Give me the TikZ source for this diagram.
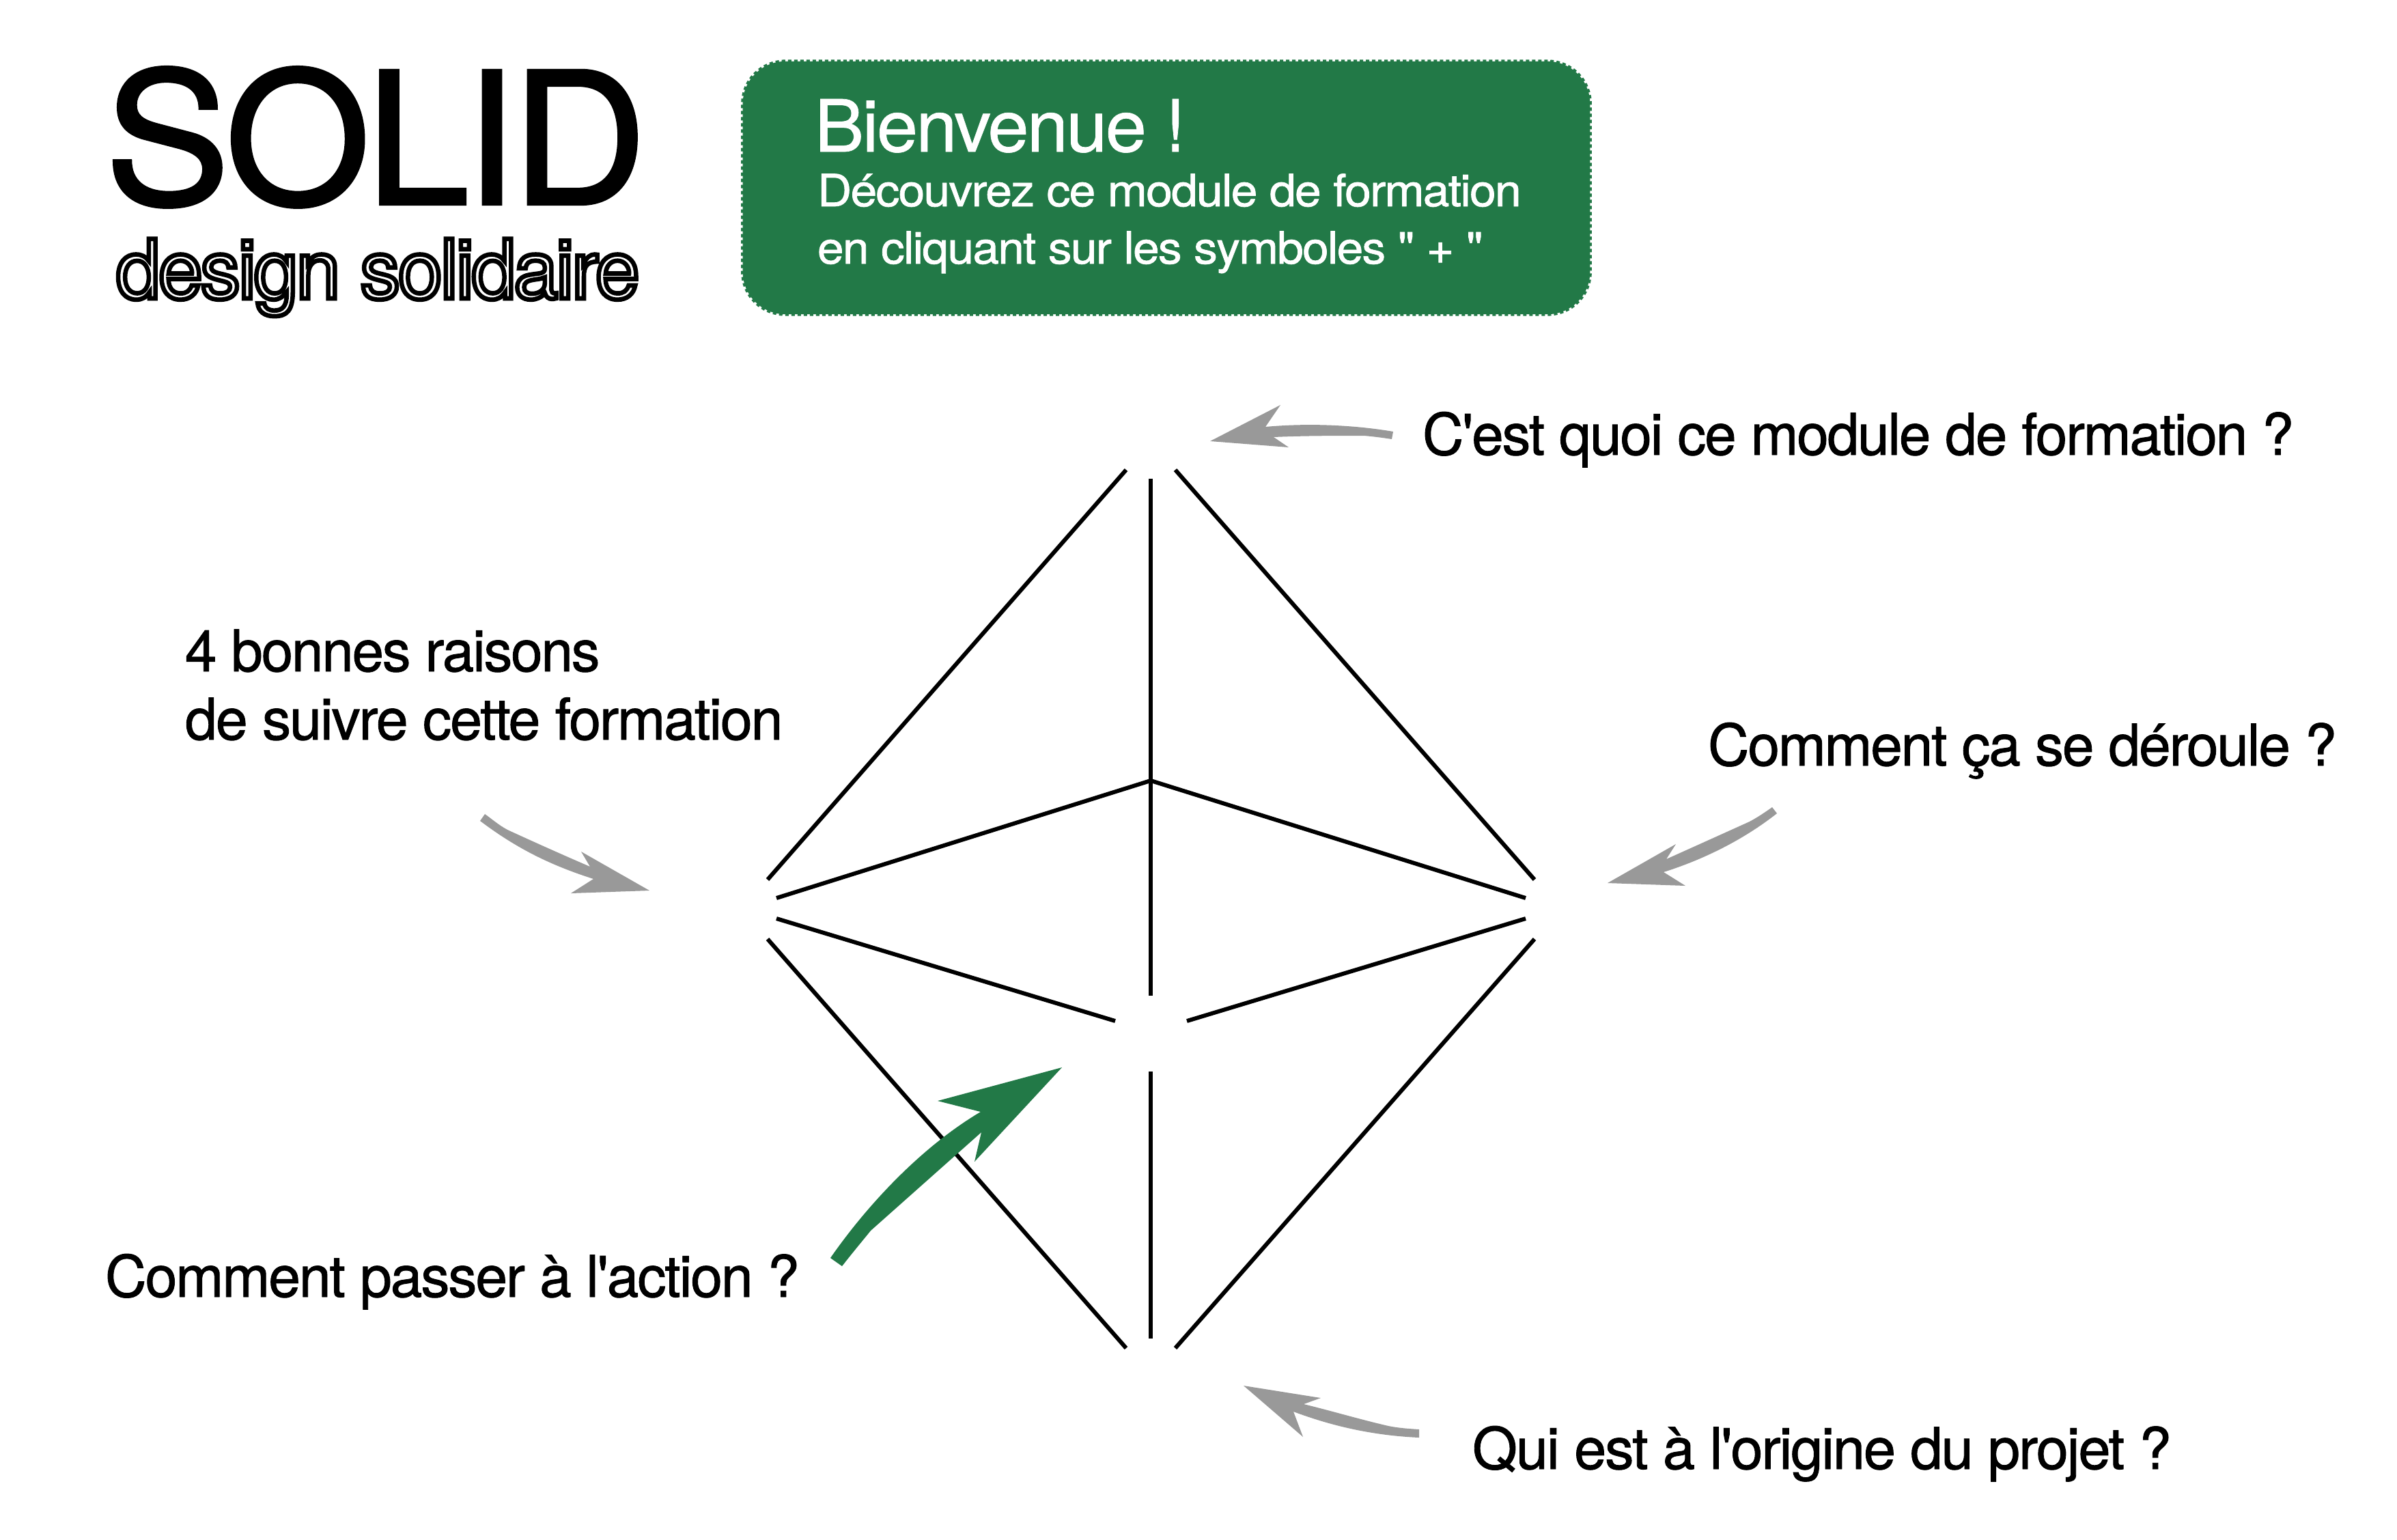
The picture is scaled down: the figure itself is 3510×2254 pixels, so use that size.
\documentclass[tikz,border=0pt]{standalone}
\usepackage{fontspec}
\usepackage{graphicx}
\setmainfont[Ligatures=TeXOff]{TeX Gyre Heros}
\definecolor{solidgreen}{HTML}{227947}
\definecolor{arrowgrey}{HTML}{999999}
\newcommand\fitbox[2]{\resizebox{#1cm}{\height}{#2}}
\newcommand\strokedtext[2]{\special{pdf:code 1 Tr #1 w}#2\special{pdf:code 0 Tr}}
\newcommand\heavytext[2]{\special{pdf:code 2 Tr #1 w}#2\special{pdf:code 0 Tr}}
\newcommand\tight{\addfontfeature{LetterSpace=-2.5}}
\tikzset{
  lbl/.style={anchor=base west,inner sep=0pt,outer sep=0pt,font=\fontsize{24}{28}\selectfont\tight},
  edge/.style={draw=black,line width=0.06cm},
  greyarrow/.style={fill=arrowgrey,draw=none},
  greenarrow/.style={fill=solidgreen,draw=none}
}
\begin{document}
\begin{tikzpicture}[x=0.01cm,y=-0.01cm]
\useasboundingbox[fill=white] (0,0) rectangle (3510,2254);
% title
\node[lbl,font=\fontsize{76.5}{80}\selectfont\tight] (solid) at (154,299) {\fitbox{7.92}{\heavytext{1.2}{SOLID}}};
\node[lbl,font=\fontsize{34}{36}\selectfont\tight] (design) at (170,437) {\fitbox{7.66}{\strokedtext{1.9}{design solidaire}}};
% welcome box
\node[draw=solidgreen,fill=solidgreen,rounded corners=0.62cm,line width=0.05cm,dash pattern=on 0.05cm off 0.04cm,
      minimum width=12.4cm,minimum height=3.7cm,inner sep=0pt] (box) at (1708,275) {};
\node[lbl,text=white,font=\fontsize{30}{32}\selectfont\tight] (bienvenue) at (1193,222) {\fitbox{5.43}{\heavytext{0.2}{Bienvenue !}}};
\node[lbl,text=white,font=\fontsize{18.5}{20}\selectfont\tight] (decouvrez) at (1197,302) {\fitbox{10.3}{\heavytext{0.2}{Découvrez ce module de formation}}};
\node[lbl,text=white,font=\fontsize{18.5}{20}\selectfont\tight] (cliquant) at (1197,386) {\fitbox{9.74}{\heavytext{0.2}{en cliquant sur les symboles " + "}}};
% labels
\node[lbl] (q1) at (2083,666) {\fitbox{12.75}{\heavytext{0.25}{C'est quoi ce module de formation ?}}};
\node[lbl] (q2) at (2501,1121) {\fitbox{9.2}{\heavytext{0.25}{Comment ça se déroule ?}}};
\node[lbl] (q3a) at (271,983) {\fitbox{6.07}{\heavytext{0.25}{4 bonnes raisons}}};
\node[lbl] (q3b) at (271,1083) {\fitbox{8.75}{\heavytext{0.25}{de suivre cette formation}}};
\node[lbl] (q4) at (154,1899) {\fitbox{10.16}{\heavytext{0.25}{Comment passer à l'action ?}}};
\node[lbl] (q5) at (2156,2151) {\fitbox{10.23}{\heavytext{0.25}{Qui est à l'origine du projet ?}}};
% octahedron vertices
\coordinate (tl) at (1649,688); \coordinate (tlb) at (1124,1288);
\coordinate (tv) at (1685,701); \coordinate (tvb) at (1685,1458);
\coordinate (tr) at (1721,688); \coordinate (trb) at (2247,1288);
\coordinate (ml) at (1137,1315); \coordinate (mc) at (1685,1143); \coordinate (mr) at (2234,1315);
\coordinate (fl) at (1137,1345); \coordinate (fla) at (1633,1495);
\coordinate (fr) at (2234,1345); \coordinate (fra) at (1738,1495);
\coordinate (bl) at (1124,1375); \coordinate (blb) at (1649,1974);
\coordinate (br) at (2247,1375); \coordinate (brb) at (1721,1974);
\coordinate (bv) at (1685,1569); \coordinate (bvb) at (1685,1960);
\draw[edge] (tl) -- (tlb);
\draw[edge] (tv) -- (tvb);
\draw[edge] (tr) -- (trb);
\draw[edge] (ml) -- (mc) -- (mr);
\draw[edge] (fl) -- (fla);
\draw[edge] (fr) -- (fra);
\draw[edge] (bl) -- (blb);
\draw[edge] (br) -- (brb);
\draw[edge] (bv) -- (bvb);
% grey arrows
\path[greyarrow] (2040,632) .. controls (2000,625) and (1930,618) .. (1853,625) -- (1875,593) -- (1772,646) -- (1887,655) -- (1865,640) .. controls (1910,638) and (1960,638) .. (1997,638) .. controls (2010,639) and (2025,641) .. (2038,643) -- cycle;
\path[greyarrow] (710,1192) .. controls (720,1199) and (730,1208) .. (743,1215) .. controls (780,1232) and (820,1250) .. (864,1269) -- (851,1247) -- (951,1304) -- (836,1308) -- (869,1287) .. controls (810,1268) and (760,1245) .. (703,1202) -- cycle;
\path[greyarrow] (2595,1182) .. controls (2585,1189) and (2575,1196) .. (2562,1203) .. controls (2520,1222) and (2480,1240) .. (2440,1258) -- (2454,1236) -- (2354,1293) -- (2468,1297) -- (2436,1277) .. controls (2490,1260) and (2550,1232) .. (2602,1191) -- cycle;
\path[greyarrow] (2078,2093) .. controls (2062,2092) and (2048,2091) .. (2033,2088) .. controls (1990,2078) and (1950,2066) .. (1909,2056) -- (1934,2047) -- (1821,2029) -- (1908,2104) -- (1894,2067) .. controls (1950,2088) and (2010,2102) .. (2078,2105) -- cycle;
% green arrow
\path[greenarrow] (1216,1842) .. controls (1266,1770) and (1345,1682) .. (1436,1628) -- (1373,1612) -- (1555,1563) -- (1427,1701) -- (1437,1658) -- (1275,1802) .. controls (1262,1818) and (1247,1836) .. (1233,1854) -- cycle;
\end{tikzpicture}
\end{document}
